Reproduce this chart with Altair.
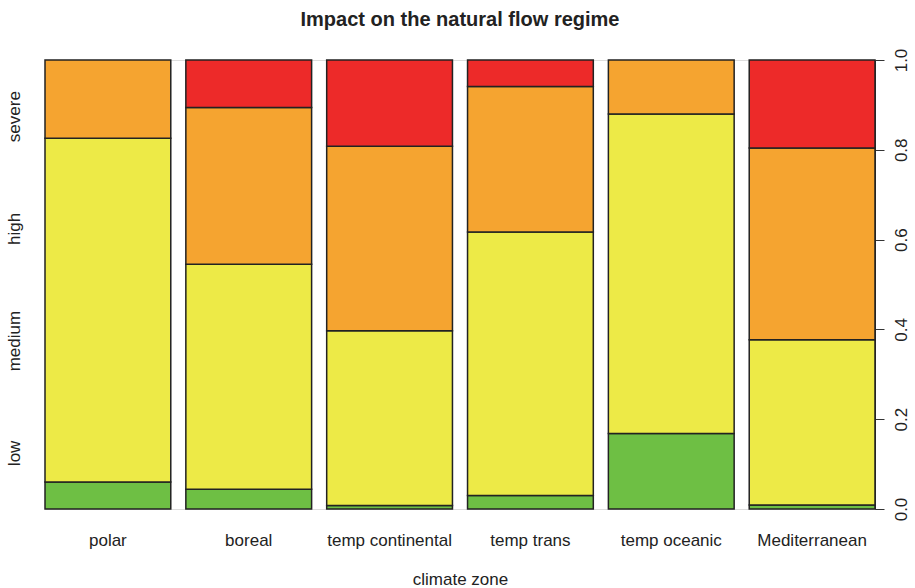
import altair as alt
import pandas as pd

# Share of each impact level within every climate zone (columns sum to 1)
zones = ["polar", "boreal", "temp continental", "temp trans", "temp oceanic", "Mediterranean"]
levels = ["low", "medium", "high", "severe"]
low = [0.060, 0.044, 0.008, 0.030, 0.168, 0.009]
medium = [0.766, 0.501, 0.389, 0.587, 0.712, 0.368]
high = [0.174, 0.349, 0.411, 0.324, 0.120, 0.427]
severe = [0.000, 0.106, 0.192, 0.059, 0.000, 0.196]
level_colors = ["#6EBF44", "#EDEA47", "#F5A430", "#ED2A29"]
right_ticks = [0.0, 0.2, 0.4, 0.6, 0.8, 1.0]

FONT = "Liberation Sans"
TXT = "#222"

rows = []
for series_rank, (lvl, vals) in enumerate(zip(levels, [low, medium, high, severe])):
    for zone, v in zip(zones, vals):
        if v > 0:
            rows.append({"zone": zone, "level": lvl, "rank": series_rank, "share": v})
df = pd.DataFrame(rows)

# Left axis: level names placed at the quarter points of the unit scale
left_positions = [0.125, 0.375, 0.625, 0.875]
label_lookup = "[" + ",".join("'" + l + "'" for l in levels) + "]"
left_axis = alt.Axis(
    values=left_positions,
    labelExpr=label_lookup + "[round(datum.value*4-0.5)]",
    domain=False, ticks=False, grid=False, title=None,
    labelAngle=270, labelAlign="center", labelBaseline="bottom",
    labelPadding=22, labelFontSize=17, labelFont=FONT, labelColor=TXT,
    orient="left",
)

right_axis = alt.Axis(
    values=right_ticks, format=".1f", orient="right",
    grid=False, title=None, domainColor="#333", tickColor="#333",
    domainWidth=1, tickWidth=1, tickSize=9,
    labelAngle=270, labelAlign="center", labelBaseline="top",
    labelPadding=9, labelFontSize=17, labelFont=FONT, labelColor=TXT,
)

y_scale = alt.Scale(domain=[0, 1], nice=False, zero=True)

bars = alt.Chart(df).mark_bar(stroke="#222", strokeWidth=1.5).encode(
    x=alt.X(
        "zone:N", sort=zones,
        scale=alt.Scale(paddingInner=0.107, paddingOuter=0),
        axis=alt.Axis(
            title="climate zone", labelAngle=0, domain=False, ticks=False,
            labelFontSize=17, labelFont=FONT, labelColor=TXT, labelPadding=23,
            titleFontSize=17, titleFont=FONT, titleFontWeight="normal",
            titleColor=TXT, titlePadding=23,
        ),
    ),
    y=alt.Y("share:Q", stack="zero", scale=y_scale, axis=left_axis),
    color=alt.Color(
        "level:N", sort=levels,
        scale=alt.Scale(domain=levels, range=level_colors), legend=None,
    ),
    order=alt.Order("rank:Q", sort="ascending"),
)

tick_df = pd.DataFrame({"t": right_ticks})
right = alt.Chart(tick_df).mark_rule(opacity=0).encode(
    y=alt.Y("t:Q", scale=y_scale, axis=right_axis),
)

chart = (
    alt.layer(bars, right)
    .resolve_axis(y="independent")
    .properties(
        width=830, height=449,
        title=alt.TitleParams(
            "Impact on the natural flow regime", fontSize=20, fontWeight="bold",
            font=FONT, color=TXT, anchor="middle", offset=18,
        ),
        autosize=alt.AutoSizeParams(type="none"),
        padding={"left": 45, "top": 60, "right": 40, "bottom": 79},
    )
    .configure_view(stroke=None)
    .configure(background="white")
)

chart.save("out.html", embed_options={"renderer": "svg", "actions": False})
